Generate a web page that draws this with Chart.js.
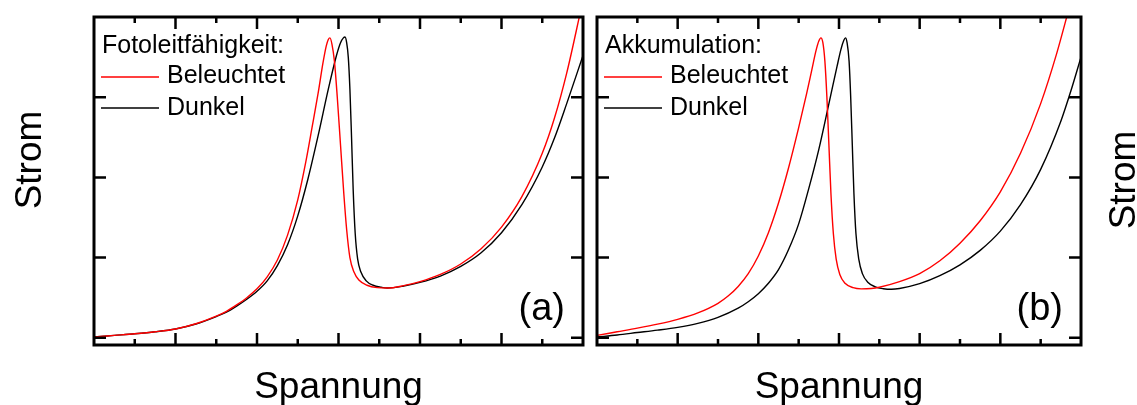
<!DOCTYPE html>
<html>
<head>
<meta charset="utf-8">
<script src="https://cdn.jsdelivr.net/npm/chart.js@4.4.1/dist/chart.umd.min.js"></script>
<style>
  html, body { margin: 0; padding: 0; background: #fff; }
  #wrap { position: relative; width: 1137px; height: 405px; overflow: hidden; }
  canvas { position: absolute; top: 0; }
  #chartA { left: 0; }
  #chartB { left: 590px; }
</style>
</head>
<body>
<div id="wrap">
  <canvas id="chartA" width="590" height="405"></canvas>
  <canvas id="chartB" width="547" height="405"></canvas>
</div>
<script>
const seriesLabels = ['Beleuchtet', 'Dunkel'];
const seriesColors = ['#ff0000', '#000000'];
const legendTitles = ['Fotoleitfähigkeit:', 'Akkumulation:'];
const panelLetters = ['(a)', '(b)'];
const xTitle = 'Spannung';
const yTitle = 'Strom';

// (a) Fotoleitfähigkeit
const aLitX = [0, 0.5, 1, 1.5, 2, 2.5, 3, 3.25, 3.5, 3.75, 4, 4.25, 4.5, 4.75, 5, 5.2, 5.35, 5.5, 5.62, 5.7, 5.75, 5.79,
  5.84, 5.9, 5.97, 6.05, 6.13, 6.2, 6.28, 6.38, 6.5, 6.7, 6.95, 7.2, 7.6, 8, 8.5, 9, 9.5, 10, 10.5, 11, 11.3, 11.6, 11.9, 12];
const aLitY = [0.01, 0.03, 0.05, 0.075, 0.11, 0.175, 0.27, 0.33, 0.41, 0.5, 0.61, 0.76, 0.97, 1.28, 1.72, 2.2, 2.62, 3.05, 3.43, 3.64, 3.72, 3.74,
  3.66, 3.45, 3.0, 2.4, 1.8, 1.35, 1.0, 0.82, 0.72, 0.655, 0.625, 0.62, 0.65, 0.7, 0.79, 0.92, 1.11, 1.38, 1.76, 2.3, 2.74, 3.3, 3.98, 4.22];
const aDarkX = [0, 0.5, 1, 1.5, 2, 2.5, 3, 3.25, 3.5, 3.75, 4, 4.25, 4.5, 4.75, 5, 5.25, 5.5, 5.75, 5.95, 6.05, 6.12, 6.16,
  6.2, 6.24, 6.28, 6.32, 6.36, 6.41, 6.47, 6.55, 6.68, 6.85, 7.05, 7.2, 7.6, 8, 8.5, 9, 9.5, 10, 10.5, 11, 11.3, 11.6, 12];
const aDarkY = [0.01, 0.03, 0.05, 0.075, 0.11, 0.172, 0.265, 0.32, 0.395, 0.48, 0.58, 0.71, 0.9, 1.16, 1.52, 1.98, 2.52, 3.1, 3.52, 3.68, 3.74, 3.75,
  3.68, 3.5, 3.1, 2.5, 1.85, 1.3, 0.98, 0.82, 0.71, 0.655, 0.63, 0.62, 0.645, 0.69, 0.77, 0.89, 1.06, 1.31, 1.66, 2.13, 2.49, 2.92, 3.52];

// (b) Akkumulation
const bLitX = [0, 0.5, 1, 1.5, 2, 2.5, 3, 3.25, 3.5, 3.75, 4, 4.25, 4.5, 4.75, 5, 5.2, 5.33, 5.43, 5.5, 5.55,
  5.6, 5.65, 5.7, 5.75, 5.8, 5.86, 5.93, 6.02, 6.15, 6.35, 6.55, 6.8, 7, 7.5, 8, 8.5, 9, 9.5, 10, 10.5, 11, 11.4, 11.7, 12];
const bLitY = [0.03, 0.075, 0.12, 0.17, 0.23, 0.31, 0.43, 0.52, 0.64, 0.8, 1.02, 1.31, 1.68, 2.12, 2.62, 3.05, 3.35, 3.58, 3.7, 3.74,
  3.68, 3.45, 3.0, 2.4, 1.8, 1.3, 0.98, 0.79, 0.68, 0.625, 0.61, 0.615, 0.63, 0.7, 0.8, 0.96, 1.18, 1.46, 1.82, 2.3, 2.92, 3.55, 4.1, 4.65];
const bDarkX = [0, 0.5, 1, 1.5, 2, 2.5, 3, 3.5, 3.75, 4, 4.25, 4.5, 4.75, 5, 5.25, 5.5, 5.75, 5.95, 6.05, 6.12, 6.16,
  6.2, 6.25, 6.29, 6.33, 6.37, 6.42, 6.49, 6.58, 6.72, 6.9, 7.1, 7.3, 7.5, 8, 8.5, 9, 9.5, 10, 10.5, 11, 11.5, 11.75, 12];
const bDarkY = [0.01, 0.035, 0.065, 0.095, 0.13, 0.18, 0.255, 0.37, 0.45, 0.55, 0.68, 0.85, 1.1, 1.42, 1.86, 2.35, 2.92, 3.38, 3.6, 3.71, 3.74,
  3.68, 3.45, 3.0, 2.4, 1.8, 1.3, 0.98, 0.8, 0.69, 0.635, 0.612, 0.605, 0.615, 0.675, 0.775, 0.91, 1.09, 1.33, 1.66, 2.1, 2.7, 3.08, 3.5];

const xMajorTicks = [2, 4, 6, 8, 10];
const xMinorTicks = [1, 3, 5, 7, 9, 11];
const yTicks = [0, 1, 2, 3];

const FONT = 'Arial, "Liberation Sans", sans-serif';

function pts(xs, ys) {
  return xs.map((x, i) => ({ x: x, y: ys[i] }));
}

// frame, inward ticks, legend block and labels
const decorations = {
  id: 'decorations',
  afterDraw(chart, args, opts) {
    const ctx = chart.ctx;
    const a = chart.chartArea;
    const xs = chart.scales.x;
    const ys = chart.scales.y;
    ctx.save();
    ctx.strokeStyle = '#000';
    ctx.lineCap = 'butt';

    // ticks
    ctx.lineWidth = 2.5;
    ctx.beginPath();
    xMajorTicks.forEach(v => {
      const px = xs.getPixelForValue(v);
      ctx.moveTo(px, a.bottom); ctx.lineTo(px, a.bottom - 12);
      ctx.moveTo(px, a.top); ctx.lineTo(px, a.top + 12);
    });
    xMinorTicks.forEach(v => {
      const px = xs.getPixelForValue(v);
      ctx.moveTo(px, a.bottom); ctx.lineTo(px, a.bottom - 6);
      ctx.moveTo(px, a.top); ctx.lineTo(px, a.top + 6);
    });
    yTicks.forEach(v => {
      const py = ys.getPixelForValue(v);
      ctx.moveTo(a.left, py); ctx.lineTo(a.left + 12, py);
      ctx.moveTo(a.right, py); ctx.lineTo(a.right - 12, py);
    });
    ctx.stroke();

    // frame
    ctx.lineWidth = 3;
    ctx.strokeRect(a.left, a.top, a.right - a.left, a.bottom - a.top);

    // legend
    ctx.fillStyle = '#000';
    ctx.font = '25px ' + FONT;
    ctx.textAlign = 'left';
    ctx.textBaseline = 'alphabetic';
    ctx.fillText(opts.legendTitle, a.left + 8, a.top + 36);
    chart.data.datasets.forEach((ds, i) => {
      const ly = a.top + 60 + i * 31;
      ctx.strokeStyle = ds.borderColor;
      ctx.lineWidth = 1.4;
      ctx.beginPath();
      ctx.moveTo(a.left + 7, ly);
      ctx.lineTo(a.left + 65, ly);
      ctx.stroke();
      ctx.fillText(ds.label, a.left + 73, a.top + 66 + i * 32);
    });

    // panel letter
    ctx.font = '38px ' + FONT;
    ctx.textAlign = 'right';
    ctx.fillText(opts.letter, a.right - 18, a.bottom - 25);

    // axis titles
    ctx.font = '37px ' + FONT;
    ctx.textAlign = 'center';
    ctx.fillText(xTitle, (a.left + a.right) / 2, 398);
    ctx.save();
    ctx.translate(opts.yTitleX, opts.yTitleY);
    ctx.rotate(-Math.PI / 2);
    ctx.fillText(yTitle, 0, 0);
    ctx.restore();

    ctx.restore();
  }
};

function makeChart(id, lit, dark, pad, panel) {
  return new Chart(document.getElementById(id), {
    type: 'line',
    data: {
      datasets: [
        { label: seriesLabels[0], data: lit, borderColor: seriesColors[0] },
        { label: seriesLabels[1], data: dark, borderColor: seriesColors[1] }
      ]
    },
    options: {
      responsive: false,
      animation: false,
      parsing: false,
      layout: { padding: pad },
      elements: {
        line: { borderWidth: 1.4, cubicInterpolationMode: 'monotone', fill: false },
        point: { radius: 0 }
      },
      scales: {
        x: { type: 'linear', min: 0, max: 12, display: false },
        y: { type: 'linear', min: -0.09, max: 4, display: false }
      },
      plugins: {
        legend: { display: false },
        tooltip: { enabled: false },
        decorations: panel
      }
    },
    plugins: [decorations]
  });
}

makeChart('chartA', pts(aLitX, aLitY), pts(aDarkX, aDarkY),
  { left: 94, right: 7, top: 17, bottom: 60 },
  { legendTitle: legendTitles[0], letter: panelLetters[0], yTitleX: 41, yTitleY: 160 });

makeChart('chartB', pts(bLitX, bLitY), pts(bDarkX, bDarkY),
  { left: 7, right: 56, top: 17, bottom: 60 },
  { legendTitle: legendTitles[1], letter: panelLetters[1], yTitleX: 545, yTitleY: 180 });
</script>
</body>
</html>
